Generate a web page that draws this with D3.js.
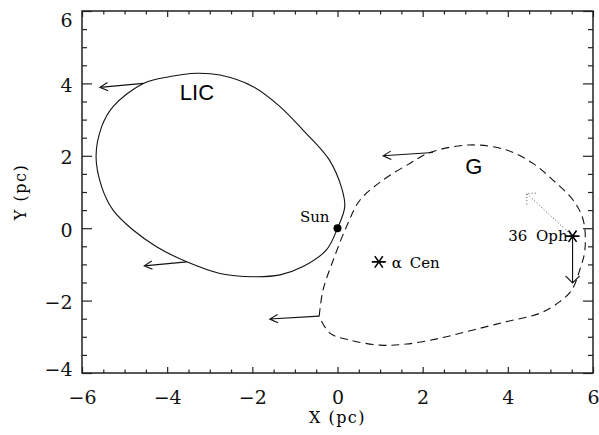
<!DOCTYPE html>
<html>
<head>
<meta charset="utf-8">
<script src="https://cdn.jsdelivr.net/npm/d3@7"></script>
<style>
  body { margin: 0; background: #fff; }
  .frame { fill: none; stroke: #222; stroke-width: 1.5; }
  .tick line { stroke: #222; stroke-width: 1.2; }
  .domain { display: none; }
</style>
</head>
<body>
<div id="chart"></div>
<script>
// Local interstellar cloud (LIC) boundary (pc)
const licX = [-3.31, -2.76, -1.98, -1.35, -0.81, -0.20, 0.10, 0.17, 0.00, -0.26, -0.81, -1.35,
              -1.98, -2.76, -3.54, -4.25, -4.80, -5.27, -5.54, -5.67, -5.54, -5.27, -4.56, -3.93];
const licY = [4.28, 4.23, 3.91, 3.36, 2.71, 1.90, 1.10, 0.59, 0.00, -0.60, -1.06, -1.29,
              -1.34, -1.25, -0.93, -0.51, -0.05, 0.50, 1.15, 1.98, 2.80, 3.36, 4.00, 4.19];

// G cloud boundary (dashed), starts and ends at the kink at lower left
const gX = [-0.43, -0.34, -0.10, 0.21, 0.53, 1.07, 1.70, 2.17, 3.11, 3.97, 4.59, 5.06, 5.53, 5.77,
            5.81, 5.69, 5.50, 5.22, 4.75, 3.97, 3.19, 2.40, 1.62, 1.00, 0.29, -0.18, -0.43];
const gY = [-2.43, -1.71, -0.88, 0.04, 0.78, 1.33, 1.79, 2.09, 2.30, 2.16, 1.79, 1.33, 0.78, 0.23,
            -0.60, -1.15, -1.71, -2.03, -2.35, -2.58, -2.81, -3.04, -3.20, -3.23, -3.09, -2.90, -2.43];

// cloud velocity arrows: start and tip (pc)
const arrowFromX = [-4.56, -3.54, 2.24, -0.43];
const arrowFromY = [4.00, -0.93, 2.09, -2.43];
const arrowToX = [-5.58, -4.54, 1.07, -1.59];
const arrowToY = [3.89, -1.04, 2.00, -2.51];

// stars
const starNames = ["\u03b1 Cen", "36 Oph"];
const starX = [0.97, 5.52];
const starY = [-0.93, -0.22];

// 36 Oph motion: solid arrow and dotted arrow tips
const ophMotionX = [5.52, 4.44];
const ophMotionY = [-1.51, 0.96];

const cloudNames = ["LIC", "G"];
const cloudLabelX = [-3.3, 3.2];
const cloudLabelY = [3.55, 1.5];

const xMajor = [-6, -4, -2, 0, 2, 4, 6];
const yMajor = [-4, -2, 0, 2, 4, 6];

let width = 599, height = 435;
let margin = {top: 11, right: 6, bottom: 62, left: 82};

let svg = d3.select('#chart')
            .append('svg')
            .attr('width', width)
            .attr('height', height);

let x = d3.scaleLinear().domain([-6, 6]).range([margin.left, width - margin.right]);
let y = d3.scaleLinear().domain([-4, 6]).range([height - margin.bottom, margin.top]);

let minorX = d3.range(-6, 6.01, 0.5).filter(v => !xMajor.includes(v));
let minorY = d3.range(-4, 6.01, 0.5).filter(v => !yMajor.includes(v));

// axes on all four sides, ticks pointing inward
function addAxis(axisFn, scale, ticks, len, transform, labels) {
  let g = svg.append('g')
             .attr('transform', transform)
             .call(axisFn(scale).tickValues(ticks).tickSize(-len)
                   .tickFormat(labels ? d3.format('d') : ''));
  g.attr('font-family', 'DejaVu Serif').attr('font-size', 19);
  g.selectAll('text').attr('fill', '#111');
  return g;
}

let yb = height - margin.bottom, xr = width - margin.right;

let bottomAxis = addAxis(d3.axisBottom, x, xMajor, 6, `translate(0,${yb})`, true);
addAxis(d3.axisBottom, x, minorX, 3.5, `translate(0,${yb})`, false);
addAxis(d3.axisTop, x, xMajor, 6, `translate(0,${margin.top})`, false);
addAxis(d3.axisTop, x, minorX, 3.5, `translate(0,${margin.top})`, false);

let leftAxis = addAxis(d3.axisLeft, y, yMajor, 10, `translate(${margin.left},0)`, true);
addAxis(d3.axisLeft, y, minorY, 5, `translate(${margin.left},0)`, false);
addAxis(d3.axisRight, y, yMajor, 10, `translate(${xr},0)`, false);
addAxis(d3.axisRight, y, minorY, 5, `translate(${xr},0)`, false);

// label placement to match the original
bottomAxis.selectAll('text').attr('y', 17.5);
leftAxis.selectAll('text')
        .attr('x', -9.5)
        .attr('y', d => {
          let p = Math.max(margin.top + 9, Math.min(yb - 4, y(d) + 2));
          return p - y(d);
        });

svg.append('rect')
   .attr('class', 'frame')
   .attr('x', margin.left)
   .attr('y', margin.top)
   .attr('width', xr - margin.left)
   .attr('height', yb - margin.top);

// axis titles
svg.append('text')
   .attr('x', (margin.left + xr) / 2)
   .attr('y', 423)
   .attr('text-anchor', 'middle')
   .style('font-family', 'DejaVu Serif')
   .style('font-size', '16px')
   .style('letter-spacing', '1.5px')
   .text('X (pc)');

svg.append('text')
   .attr('transform', `translate(26,${(margin.top + yb) / 2}) rotate(-90)`)
   .attr('text-anchor', 'middle')
   .style('font-family', 'DejaVu Serif')
   .style('font-size', '16px')
   .style('letter-spacing', '1.5px')
   .text('Y (pc)');

// clouds
let licPts = licX.map((v, i) => [v, licY[i]]);
let gPts = gX.map((v, i) => [v, gY[i]]);

svg.append('path')
   .datum(licPts)
   .attr('d', d3.line().x(d => x(d[0])).y(d => y(d[1])).curve(d3.curveCatmullRomClosed))
   .attr('fill', 'none')
   .attr('stroke', '#111')
   .attr('stroke-width', 1.1);

svg.append('path')
   .datum(gPts)
   .attr('d', d3.line().x(d => x(d[0])).y(d => y(d[1])).curve(d3.curveCatmullRom))
   .attr('fill', 'none')
   .attr('stroke', '#111')
   .attr('stroke-width', 1.1)
   .attr('stroke-dasharray', '8,5');

// arrows with open heads
function arrow(x0, y0, x1, y1, head, ang, dash) {
  let px0 = x(x0), py0 = y(y0), px1 = x(x1), py1 = y(y1);
  let a = Math.atan2(py0 - py1, px0 - px1);
  let w1 = [px1 + head * Math.cos(a + ang), py1 + head * Math.sin(a + ang)];
  let w2 = [px1 + head * Math.cos(a - ang), py1 + head * Math.sin(a - ang)];
  svg.append('path')
     .attr('d', `M${px0},${py0}L${px1},${py1}M${w1[0]},${w1[1]}L${px1},${py1}L${w2[0]},${w2[1]}`)
     .attr('fill', 'none')
     .attr('stroke', dash ? '#555' : '#111')
     .attr('stroke-width', dash ? 1 : 1.1)
     .attr('stroke-dasharray', dash ? '1,2.2' : null);
}

arrowFromX.forEach((v, i) => arrow(v, arrowFromY[i], arrowToX[i], arrowToY[i], 9, Math.PI / 6.5, false));
arrow(starX[1], starY[1], ophMotionX[0], ophMotionY[0], 10, Math.PI / 4, false);
arrow(starX[1], starY[1], ophMotionX[1], ophMotionY[1], 11, Math.PI / 4, true);

// Sun
svg.append('circle')
   .attr('cx', x(0)).attr('cy', y(0)).attr('r', 4)
   .attr('fill', '#000');

svg.append('text')
   .attr('x', x(0) - 8).attr('y', y(0) - 6)
   .attr('text-anchor', 'end')
   .style('font-family', 'DejaVu Serif')
   .style('font-size', '15px')
   .text('Sun');

// stars: asterisk markers
let stars = svg.selectAll('g.star')
               .data(starNames)
               .enter()
               .append('g')
               .attr('class', 'star')
               .attr('transform', (d, i) => `translate(${x(starX[i])},${y(starY[i])})`);

stars.append('path')
     .attr('d', () => {
       let r = 7, s = '';
       [0, 55, 125].forEach(deg => {
         let t = deg * Math.PI / 180;
         s += `M${-r * Math.cos(t)},${-r * Math.sin(t)}L${r * Math.cos(t)},${r * Math.sin(t)}`;
       });
       return s;
     })
     .attr('stroke', '#000')
     .attr('stroke-width', 1.6);

stars.append('text')
     .attr('x', (d, i) => i === 0 ? 13 : -5)
     .attr('y', (d, i) => i === 0 ? 6 : 5)
     .attr('text-anchor', (d, i) => i === 0 ? 'start' : 'end')
     .style('font-family', 'DejaVu Serif')
     .style('font-size', '15px')
     .style('word-spacing', (d, i) => i === 0 ? '3px' : '4px')
     .text(d => d);

// cloud names
svg.selectAll('text.cloud')
   .data(cloudNames)
   .enter()
   .append('text')
   .attr('class', 'cloud')
   .attr('x', (d, i) => x(cloudLabelX[i]))
   .attr('y', (d, i) => y(cloudLabelY[i]))
   .attr('text-anchor', 'middle')
   .style('font-family', 'Liberation Sans, Arial, sans-serif')
   .style('font-size', '22px')
   .text(d => d);
</script>
</body>
</html>
